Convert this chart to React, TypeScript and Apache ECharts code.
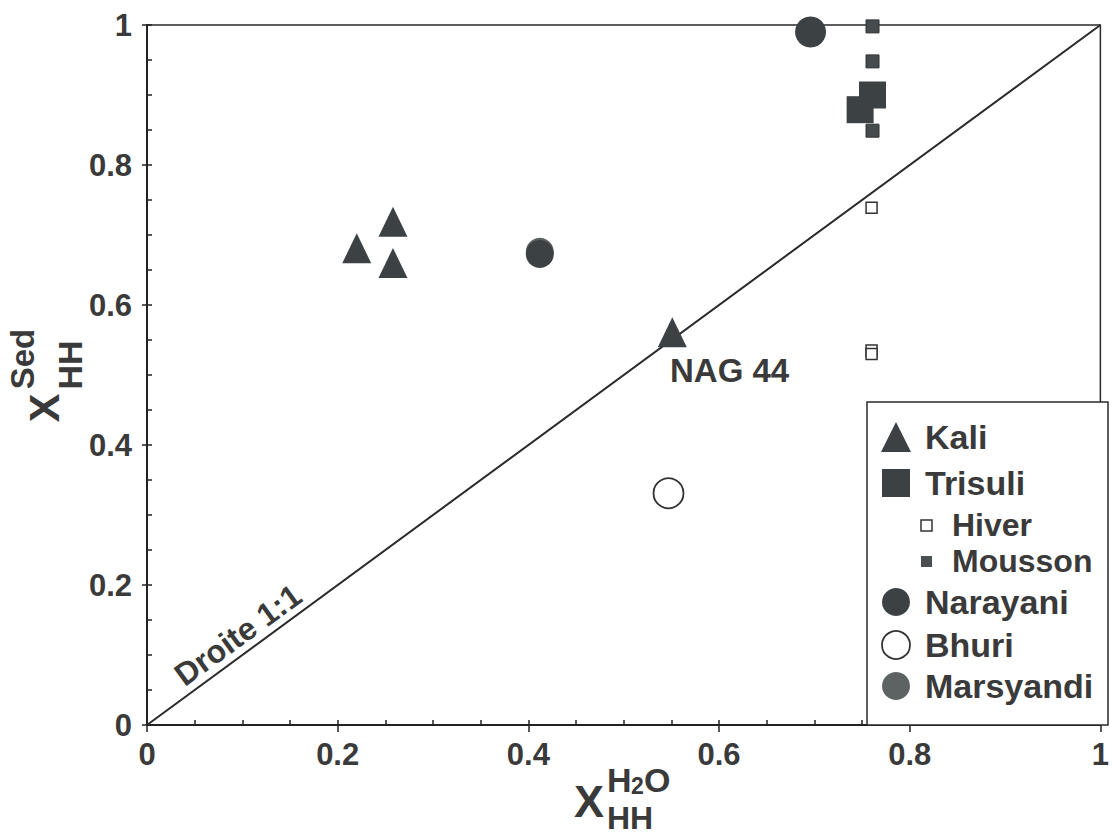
import React, { useEffect, useRef } from "react";
import * as echarts from "echarts";

// ---- data ----
const xTicks = [0, 0.2, 0.4, 0.6, 0.8, 1];
const yTicks = [0, 0.2, 0.4, 0.6, 0.8, 1];
const kaliX = [0.22, 0.258, 0.258, 0.551];
const kaliY = [0.681, 0.719, 0.66, 0.561];
const trisuliX = [0.761, 0.748];
const trisuliY = [0.9, 0.879];
const moussonX = [0.761, 0.761, 0.761];
const moussonY = [0.998, 0.948, 0.849];
const hiverX = [0.76, 0.76, 0.76];
const hiverY = [0.739, 0.535, 0.53];
const narayaniX = [0.412, 0.696];
const narayaniY = [0.673, 0.99];
const bhuriX = [0.547];
const bhuriY = [0.331];
const marsyandiX = [0.412];
const marsyandiY = [0.676];
const diagX = [0, 1];
const diagY = [0, 1];

const legendItems = ["Kali", "Trisuli", "Hiver", "Mousson", "Narayani", "Bhuri", "Marsyandi"];

const pairs = (xs: number[], ys: number[]) => xs.map((x, i) => [x, ys[i]]);

const FONT = "Liberation Sans, Arial, Helvetica, sans-serif";
const TXT = "#3a3a3a";
const DARK = "#3c4244";
const GREY = "#5d6263";

export default function App() {
  const ref = useRef<HTMLDivElement>(null);
  useEffect(() => {
    if (!ref.current) return;
    const chart = echarts.init(ref.current, undefined, { renderer: "svg" });
    const labelStyle = {
      fontFamily: FONT,
      fontWeight: "bold" as const,
      fontSize: 31,
      color: TXT,
    };
    const fmt = (list: number[]) => (v: number) => {
      const hit = list.find((tt) => Math.abs(tt - v) < 1e-9);
      return hit === undefined ? "" : String(hit);
    };
    const t = (text: string, x: number, y: number, size: number, extra: any = {}) => ({
      type: "text",
      x,
      y,
      ...extra,
      style: {
        text,
        fontFamily: FONT,
        fontWeight: "bold",
        fontSize: size,
        fill: TXT,
        textAlign: extra.align || "left",
        textVerticalAlign: "middle",
        verticalAlign: "middle",
      },
    });

    const lx = 896;
    const rows = [437, 483, 525, 561, 602, 645, 686];
    const tickLine = { color: "#222", width: 1.5 };

    chart.setOption({
      animation: false,
      grid: {
        left: 147,
        right: 4,
        top: 25,
        bottom: 114,
        show: true,
        borderColor: "#2a2a2a",
        borderWidth: 1.5,
        backgroundColor: "transparent",
      },
      xAxis: [
        {
          type: "value",
          min: 0,
          max: 1,
          interval: 0.2,
          position: "bottom",
          axisLine: { show: true, lineStyle: { color: "#222", width: 2 } },
          axisTick: { show: true, inside: true, length: 5, lineStyle: tickLine },
          minorTick: { show: true, splitNumber: 4, length: 5, lineStyle: tickLine },
          splitLine: { show: false },
          axisLabel: { ...labelStyle, margin: 14, formatter: fmt(xTicks) },
        },
        {
          type: "value",
          min: 0,
          max: 1,
          interval: 0.2,
          position: "bottom",
          offset: 0,
          axisLine: { show: false },
          axisTick: { show: true, inside: false, length: 7, lineStyle: tickLine },
          splitLine: { show: false },
          axisLabel: { show: false },
        },
      ],
      yAxis: [
        {
          type: "value",
          min: 0,
          max: 1,
          interval: 0.2,
          position: "left",
          axisLine: { show: true, lineStyle: { color: "#222", width: 2 } },
          axisTick: { show: true, inside: true, length: 5, lineStyle: tickLine },
          minorTick: { show: true, splitNumber: 4, length: 5, lineStyle: tickLine },
          splitLine: { show: false },
          axisLabel: { ...labelStyle, margin: 15, formatter: fmt(yTicks) },
        },
        {
          type: "value",
          min: 0,
          max: 1,
          interval: 0.2,
          position: "left",
          offset: 0,
          axisLine: { show: false },
          axisTick: { show: true, inside: false, length: 5, lineStyle: tickLine },
          splitLine: { show: false },
          axisLabel: { show: false },
        },
      ],
      series: [
        {
          type: "line",
          data: pairs(diagX, diagY),
          showSymbol: false,
          symbol: "none",
          lineStyle: { color: "#2a2a2a", width: 2 },
          silent: true,
          z: 1,
        },
        {
          name: "Marsyandi",
          type: "scatter",
          data: pairs(marsyandiX, marsyandiY),
          symbol: "circle",
          symbolSize: 28,
          itemStyle: { color: GREY, opacity: 1 },
          z: 2,
        },
        {
          name: "Narayani",
          type: "scatter",
          data: pairs(narayaniX, narayaniY),
          symbol: "circle",
          symbolSize: (v: number[], p: any) => (p.dataIndex === 1 ? 31 : 28),
          itemStyle: { color: DARK, opacity: 1 },
          z: 3,
        },
        {
          name: "Kali",
          type: "scatter",
          data: pairs(kaliX, kaliY),
          symbol: "triangle",
          symbolSize: [29, 30],
          itemStyle: { color: DARK, opacity: 1 },
          z: 3,
        },
        {
          name: "Trisuli",
          type: "scatter",
          data: pairs(trisuliX, trisuliY),
          symbol: "rect",
          symbolSize: 27,
          itemStyle: { color: DARK, opacity: 1 },
          z: 3,
        },
        {
          name: "Mousson",
          type: "scatter",
          data: pairs(moussonX, moussonY),
          symbol: "rect",
          symbolSize: 13,
          itemStyle: { color: "#464b4e", borderColor: "#333", borderWidth: 1, opacity: 1 },
          z: 4,
        },
        {
          name: "Hiver",
          type: "scatter",
          data: pairs(hiverX, hiverY),
          symbol: "rect",
          symbolSize: 11,
          itemStyle: { color: "#fff", borderColor: "#333", borderWidth: 1.5, opacity: 1 },
          z: 4,
        },
        {
          name: "Bhuri",
          type: "scatter",
          data: pairs(bhuriX, bhuriY),
          symbol: "circle",
          symbolSize: 30,
          itemStyle: { color: "#fff", borderColor: "#333", borderWidth: 1.8, opacity: 1 },
          z: 4,
        },
      ],
      graphic: [
        // legend box
        {
          type: "rect",
          shape: { x: 867, y: 402, width: 241, height: 323 },
          style: { fill: "#fff", stroke: "#2a2a2a", lineWidth: 1.5 },
          z: 10,
        },
        {
          type: "polygon",
          shape: { points: [[lx - 15, rows[0] + 15], [lx, rows[0] - 15], [lx + 15, rows[0] + 15]] },
          style: { fill: DARK },
          z: 11,
        },
        {
          type: "rect",
          shape: { x: lx - 14, y: rows[1] - 14, width: 28, height: 28 },
          style: { fill: DARK },
          z: 11,
        },
        {
          type: "rect",
          shape: { x: 921, y: rows[2] - 5, width: 11, height: 11 },
          style: { fill: "#fff", stroke: "#333", lineWidth: 1.5 },
          z: 11,
        },
        {
          type: "rect",
          shape: { x: 921, y: rows[3] - 5, width: 11, height: 11 },
          style: { fill: "#4a4f52" },
          z: 11,
        },
        {
          type: "circle",
          shape: { cx: lx, cy: rows[4], r: 14 },
          style: { fill: DARK },
          z: 11,
        },
        {
          type: "circle",
          shape: { cx: lx, cy: rows[5], r: 14 },
          style: { fill: "#fff", stroke: "#333", lineWidth: 1.8 },
          z: 11,
        },
        {
          type: "circle",
          shape: { cx: lx, cy: rows[6], r: 14 },
          style: { fill: GREY },
          z: 11,
        },
        t(legendItems[0], 925, rows[0], 34, { z: 11 }),
        t(legendItems[1], 925, rows[1], 34, { z: 11 }),
        t(legendItems[2], 952, rows[2], 32, { z: 11 }),
        t(legendItems[3], 952, rows[3], 32, { z: 11 }),
        t(legendItems[4], 925, rows[4], 34, { z: 11 }),
        t(legendItems[5], 925, rows[5], 34, { z: 11 }),
        t(legendItems[6], 925, rows[6], 34, { z: 11 }),
        // annotations
        t("NAG 44", 670, 370, 33, { z: 11 }),
        t("Droite 1:1", 238, 635, 32, { z: 11, rotation: 0.6296, align: "center" }),
        // x axis title
        t("X", 574, 801, 45, { z: 11 }),
        t("H", 607, 780, 34, { z: 11 }),
        t("2", 631, 786, 23, { z: 11 }),
        t("O", 644, 780, 34, { z: 11 }),
        t("HH", 607, 818, 32, { z: 11 }),
        // y axis title
        t("X", 44, 408, 43, { z: 11, rotation: Math.PI / 2, align: "center" }),
        t("Sed", 22, 359, 33, { z: 11, rotation: Math.PI / 2, align: "center" }),
        t("HH", 70, 365, 34, { z: 11, rotation: Math.PI / 2, align: "center" }),
      ],
    });
    return () => chart.dispose();
  }, []);
  return (
    <div
      ref={ref}
      style={{ position: "fixed", left: 0, top: 0, width: 1112, height: 839, background: "#fff" }}
    />
  );
}
